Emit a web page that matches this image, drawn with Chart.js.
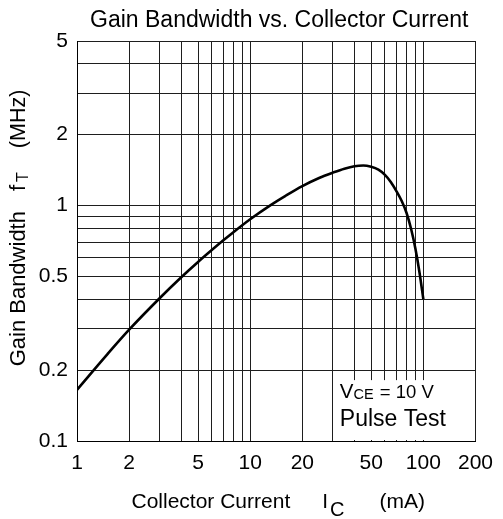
<!DOCTYPE html>
<html>
<head>
<meta charset="utf-8">
<script src="https://cdn.jsdelivr.net/npm/chart.js@4.4.0/dist/chart.umd.min.js"></script>
<style>
    html, body { margin: 0; padding: 0; background: #fff; }
    #wrap { width: 503px; height: 519px; }
</style>
</head>
<body>
<div id="wrap"><canvas id="chart1"></canvas></div>
<script>
// curve
const currentMA = [1, 1.5, 2, 3, 4, 5, 6, 7, 8, 10, 13, 16, 20, 25, 30, 35, 40, 45, 50, 55, 60, 65, 70, 75, 80, 85, 90, 95, 100];
const gainMHz = [0.165, 0.234, 0.297, 0.404, 0.496, 0.576, 0.647, 0.712, 0.771, 0.875, 1.0, 1.10, 1.21, 1.31, 1.38, 1.435, 1.47, 1.48, 1.46, 1.42, 1.35, 1.257, 1.15, 1.045, 0.93, 0.795, 0.655, 0.52, 0.40];

// grid lines and which of them get a label
const xGrid = [1, 2, 3, 4, 5, 6, 7, 8, 9, 10, 20, 30, 40, 50, 60, 70, 80, 90, 100, 200];
const xLabels = [1, 2, 5, 10, 20, 50, 100, 200];
const yGrid = [0.1, 0.2, 0.3, 0.4, 0.5, 0.6, 0.7, 0.8, 0.9, 1, 2, 3, 4, 5];
const yLabels = [0.1, 0.2, 0.5, 1, 2, 5];

const FONT = 'Liberation Sans, Arial, Helvetica, sans-serif';

const points = currentMA.map((x, i) => ({ x: x, y: gainMHz[i] }));

// draws a row of text pieces, each {t, size, dy, gap}; centred on 0 unless left-aligned
function drawPieces(c, pieces, leftAligned) {
    let total = 0;
    pieces.forEach(p => {
        c.font = p.size + 'px ' + FONT;
        p.w = c.measureText(p.t).width;
        total += p.w + (p.gap || 0);
    });
    let x = leftAligned ? 0 : -total / 2;
    pieces.forEach(p => {
        x += p.gap || 0;
        c.font = p.size + 'px ' + FONT;
        c.fillText(p.t, x, p.dy || 0);
        x += p.w;
    });
}

const textPlugin = {
    id: 'textPlugin',
    afterDatasetsDraw(chart) {
        const c = chart.ctx;
        const area = chart.chartArea;
        const xs = chart.scales.x;
        const ys = chart.scales.y;
        const cx = (area.left + area.right) / 2;

        // white note box in the lower right corner
        const bx = xs.getPixelForValue(30) + 2;
        const by = ys.getPixelForValue(0.2) + 10;
        c.save();
        c.fillStyle = '#fff';
        c.fillRect(bx, by, area.right - 1 - bx, area.bottom - 1 - by);

        c.fillStyle = '#000';
        c.textAlign = 'left';
        c.textBaseline = 'alphabetic';
        c.save();
        c.translate(bx + 5, by + 18);
        drawPieces(c, [
            { t: 'V', size: 20.5 },
            { t: 'CE', size: 14.5, dy: 1 },
            { t: ' = 10 V', size: 18.5, gap: 1 }
        ], true);
        c.restore();
        c.font = '23px ' + FONT;
        c.fillText('Pulse Test', bx + 5, by + 46);

        // chart title
        c.textAlign = 'center';
        c.font = '23px ' + FONT;
        c.fillText('Gain Bandwidth vs. Collector Current', cx + 3, 27);

        // x axis title
        c.textAlign = 'left';
        c.translate(cx + 2, 508);
        drawPieces(c, [
            { t: 'Collector Current', size: 21 },
            { t: 'I', size: 21, gap: 32 },
            { t: 'C', size: 20, dy: 8, gap: 2 },
            { t: '(mA)', size: 21, gap: 35 }
        ]);
        c.restore();

        // y axis title
        c.save();
        c.fillStyle = '#000';
        c.textAlign = 'left';
        c.translate(25, 228);
        c.rotate(-Math.PI / 2);
        drawPieces(c, [
            { t: 'Gain Bandwidth', size: 22 },
            { t: 'f', size: 22, gap: 20 },
            { t: 'T', size: 16, dy: 3, gap: 3 },
            { t: '(MHz)', size: 21.5, gap: 24 }
        ]);
        c.restore();
    }
};

const ctx = document.getElementById('chart1').getContext('2d');

const chart1 = new Chart(ctx, {
    type: 'scatter',
    data: {
        datasets: [{
            data: points,
            showLine: true,
            borderColor: '#000',
            borderWidth: 2.6,
            pointRadius: 0,
            cubicInterpolationMode: 'monotone',
            fill: false
        }]
    },
    options: {
        responsive: true,
        maintainAspectRatio: false,
        animation: false,
        layout: { padding: { top: 41, right: 23, left: 0, bottom: 0 } },
        plugins: {
            legend: { display: false },
            tooltip: { enabled: false },
            title: { display: false }
        },
        scales: {
            x: {
                type: 'logarithmic',
                min: 1,
                max: 200,
                afterBuildTicks: scale => { scale.ticks = xGrid.map(v => ({ value: v })); },
                afterFit: scale => { scale.height = 78; },
                grid: { color: '#1e1e1e', lineWidth: 1, drawTicks: false },
                border: { color: '#000', width: 1 },
                ticks: {
                    autoSkip: false,
                    maxRotation: 0,
                    padding: 10,
                    color: '#000',
                    font: { family: FONT, size: 21 },
                    callback: value => xLabels.includes(value) ? String(value) : ''
                }
            },
            y: {
                type: 'logarithmic',
                min: 0.1,
                max: 5,
                afterBuildTicks: scale => { scale.ticks = yGrid.map(v => ({ value: v })); },
                afterFit: scale => { scale.width = 77; },
                grid: { color: '#1e1e1e', lineWidth: 1, drawTicks: false },
                border: { color: '#000', width: 1 },
                ticks: {
                    autoSkip: false,
                    padding: 9,
                    color: '#000',
                    font: { family: FONT, size: 21 },
                    callback: value => yLabels.includes(value) ? String(value) : ''
                }
            }
        }
    },
    plugins: [textPlugin]
});
</script>
</body>
</html>
